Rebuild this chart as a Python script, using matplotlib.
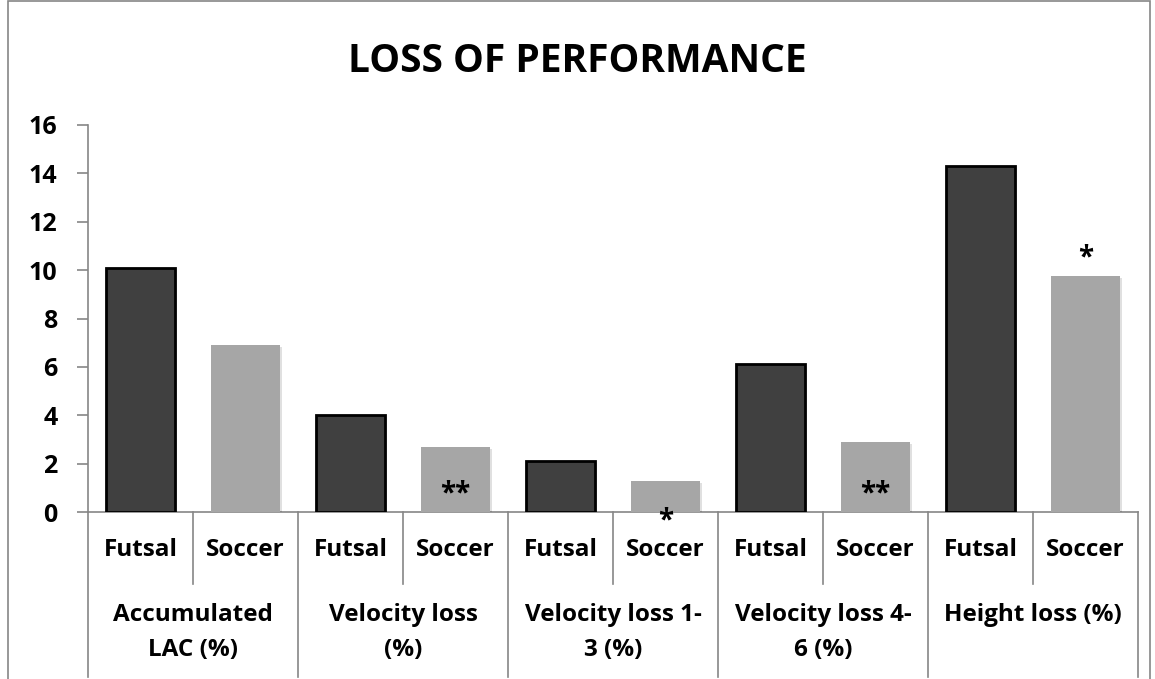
import matplotlib as mpl
import matplotlib.pyplot as plt
import matplotlib.patheffects as pe
from matplotlib.lines import Line2D
from matplotlib.patches import Rectangle
from matplotlib.transforms import blended_transform_factory

mpl.use("Agg")
plt.rcParams["font.family"] = ["Open Sans", "DejaVu Sans"]

groups = ["Accumulated\nLAC (%)", "Velocity loss\n(%)", "Velocity loss 1-\n3 (%)",
          "Velocity loss 4-\n6 (%)", "Height loss (%)"]
sports = ["Futsal", "Soccer"]
futsal = [10.1, 4.0, 2.1, 6.1, 14.3]
soccer = [6.9, 2.7, 1.3, 2.9, 9.75]
# significance marks on the soccer bars: (text, y value where the mark sits)
marks = [("", 0), ("**", 0.75), ("*", -0.35), ("**", 0.75), ("*", 10.5)]
yticks = [0, 2, 4, 6, 8, 10, 12, 14, 16]

W, H = 1155, 679
fig = plt.figure(figsize=(W / 100, H / 100), dpi=100)
ax = fig.add_axes([88 / W, (H - 512) / H, (1138 - 88) / W, (512 - 125) / H])

grey = "#868686"
shadow = [pe.SimplePatchShadow(offset=(1.5, -1.5), shadow_rgbFace="k", alpha=0.12), pe.Normal()]

for i in range(len(groups)):
    ax.bar(2 * i, futsal[i], width=0.66, color="#404040", edgecolor="black",
           linewidth=2, path_effects=shadow, zorder=3)
    ax.bar(2 * i + 1, soccer[i], width=0.66, color="#a6a6a6", linewidth=0,
           path_effects=shadow, zorder=3)
    txt, ym = marks[i]
    if txt:
        ax.text(2 * i + 1, ym, txt, ha="center", va="center", fontsize=20,
                fontweight="bold", color="black", zorder=5, clip_on=False)

ax.set_xlim(-0.5, 2 * len(groups) - 0.5)
ax.set_ylim(0, 16)
ax.set_yticks(yticks)
ax.set_yticklabels([str(t) for t in yticks], fontsize=18, fontweight="bold")
ax.tick_params(axis="y", direction="out", length=8, color=grey, width=1.2, pad=14)
ax.set_xticks([])
for s in ["top", "right"]:
    ax.spines[s].set_visible(False)
for s in ["left", "bottom"]:
    ax.spines[s].set_color(grey)
    ax.spines[s].set_linewidth(1.2)

# multi-level category axis
tr = blended_transform_factory(ax.transData, ax.transAxes)
px = 1 / (512 - 125)
for i in range(len(groups)):
    for j, name in enumerate(sports):
        ax.text(2 * i + j, -38 * px, name, transform=tr, ha="center", va="center",
                fontsize=17.5, fontweight="bold")
    ax.text(2 * i + 0.5, -91 * px, groups[i], transform=tr, ha="center", va="top",
            fontsize=17.5, fontweight="bold", linespacing=1.62)
    ax.add_line(Line2D([2 * i + 0.5] * 2, [0, -72 * px], transform=tr, color=grey,
                       linewidth=1.2, clip_on=False))
for b in range(len(groups) + 1):
    ax.add_line(Line2D([2 * b - 0.5] * 2, [0, -165 * px], transform=tr, color=grey,
                       linewidth=1.2, clip_on=False))

fig.text(0.5, (H - 61) / H, "LOSS OF PERFORMANCE", ha="center",
         va="center", fontsize=28, fontweight="bold")

fig.add_artist(Rectangle((8 / W, -0.05), (1150 - 8) / W, 1.05 - 1 / H,
                         transform=fig.transFigure, fill=False, edgecolor=grey,
                         linewidth=1.2))

fig.savefig("out.png", dpi=100)
